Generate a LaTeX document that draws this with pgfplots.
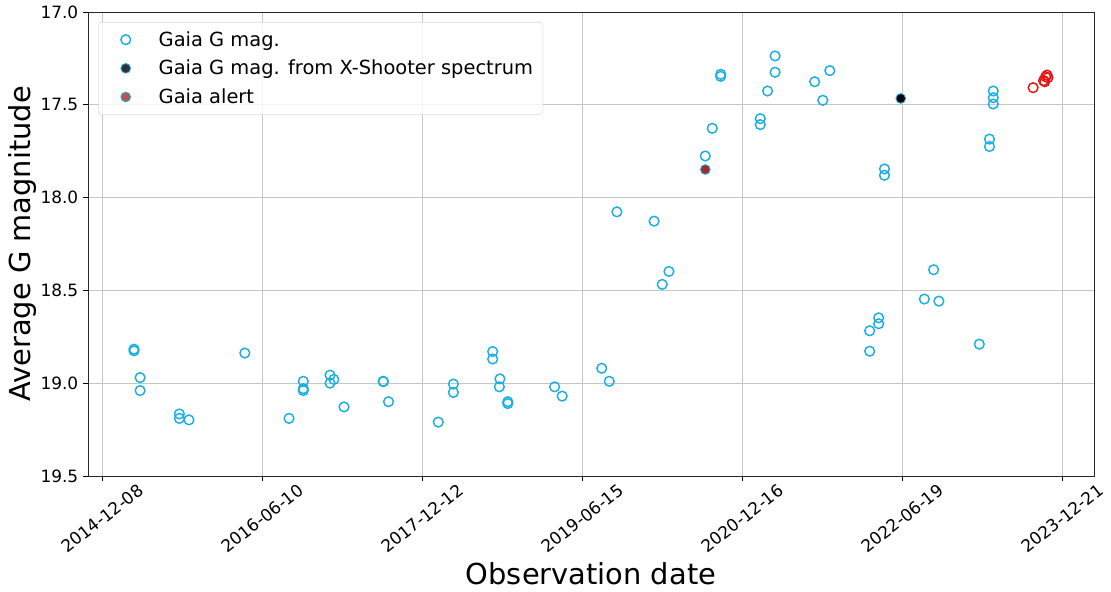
\documentclass[border=0pt]{standalone}
\usepackage{fontspec}
\setmainfont{DejaVu Sans}
\usepackage{pgfplots}
\pgfplotsset{compat=1.18}
\definecolor{gcyan}{RGB}{25,175,228}
\definecolor{gbrown}{RGB}{165,42,42}
\definecolor{gred}{RGB}{235,20,20}
\pgfplotsset{myleg/.style={legend image code/.code={\path (0cm,0cm) (1cm,0cm); \draw[##1, mark repeat=2, mark phase=2] plot coordinates {(0cm,0cm)(0.5cm,0cm)(1cm,0cm)};}}}
\begin{document}
\begin{tikzpicture}
\begin{axis}[
  name=ax,
  scale only axis,
  width=724.3pt, height=334.1pt,
  xmin=-49, xmax=3409,
  ymin=17, ymax=19.5, y dir=reverse,
  xtick={0,550,1100,1650,2200,2750,3300},
  xticklabels={2014-12-08,2016-06-10,2017-12-12,2019-06-15,2020-12-16,2022-06-19,2023-12-21},
  ytick={17,17.5,18,18.5,19,19.5},
  yticklabel style={/pgf/number format/.cd,fixed,fixed zerofill,precision=1},
  /pgf/number format/assume math mode=true,
  tick label style={font=\fontsize{12.2}{14}\selectfont},
  x tick label style={yshift=-27pt, rotate=38, anchor=center},
  tick align=outside, tick pos=left,
  major tick length=3.5pt,
  tick style={black, line width=0.6pt},
  axis line style={line width=0.6pt, black!85},
  grid=major, grid style={gray!45, line width=0.6pt},
  xlabel={Observation date},
  ylabel={Average G magnitude},
  label style={font=\fontsize{20.8}{24}\selectfont},
  xlabel style={at={(axis description cs:0.5,-0.211)}, anchor=center},
  ylabel style={at={(axis description cs:-0.0656,0.5)}, anchor=center},
  legend style={at={(0,1)}, anchor=north west, xshift=7.2pt, yshift=-7.2pt,
    font=\fontsize{14}{16}\selectfont, draw=gray!30, rounded corners=2pt,
    fill=white, fill opacity=0.8, text opacity=1, inner xsep=5pt, inner ysep=4.5pt,
    row sep=4.5pt, /tikz/every odd column/.append style={column sep=7pt}},
  legend cell align=left,
]
\addplot[only marks, myleg, mark=o, mark size=3.5pt, draw=gcyan, line width=1.05pt] coordinates {
(109,18.817)(109,18.826)(130,18.97)(130,19.04)(265,19.166)(265,19.19)(298,19.198)
(490,18.838)(642,19.19)(691,18.99)(691,19.03)(691,19.04)(783,18.957)(783,19.0)
(796,18.98)(831,19.128)(966,18.99)(966,18.992)(984,19.10)(1155,19.21)(1207,19.005)
(1207,19.05)(1342,18.83)(1342,18.87)(1367,18.977)(1365,19.02)(1394,19.10)(1394,19.11)
(1555,19.02)(1581,19.07)(1717,18.92)(1743,18.99)(1769,18.077)(1897,18.127)(1948,18.398)
(1925,18.468)(2073,17.776)(2097,17.627)(2126,17.336)(2126,17.347)(2262,17.575)(2262,17.607)
(2287,17.426)(2313,17.237)(2313,17.325)(2449,17.376)(2477,17.476)(2501,17.316)
(2689,17.846)(2689,17.88)(2638,18.718)(2638,18.828)(2669,18.648)(2669,18.68)
(2826,18.547)(2858,18.389)(2876,18.558)(3015,18.79)(3050,17.685)(3050,17.725)
(3063,17.426)(3063,17.462)(3063,17.496)
};
\addlegendentry{Gaia G mag.}
\addplot[only marks, myleg, mark=*, mark size=3.5pt, draw=gcyan, fill=black, line width=0.6pt] coordinates {
(2745,17.466)
};
\addlegendentry{Gaia G mag. from X-Shooter spectrum}
\addplot[only marks, myleg, mark=*, mark size=3.5pt, draw=gcyan, fill=gbrown, line width=0.6pt] coordinates {
(2073,17.849)
};
\addlegendentry{Gaia alert}
\addplot[only marks, mark=o, mark size=3.5pt, draw=gred, line width=1.05pt, forget plot] coordinates {
(3200,17.408)(3236,17.37)(3240,17.376)(3243,17.349)(3248,17.34)(3251,17.354)
};
\end{axis}
\pgfresetboundingbox
\path ([shift={(-63.4pt,-83.5pt)}]ax.south west) rectangle ([shift={(736.6pt,342.7pt)}]ax.south west);
\end{tikzpicture}
\end{document}
